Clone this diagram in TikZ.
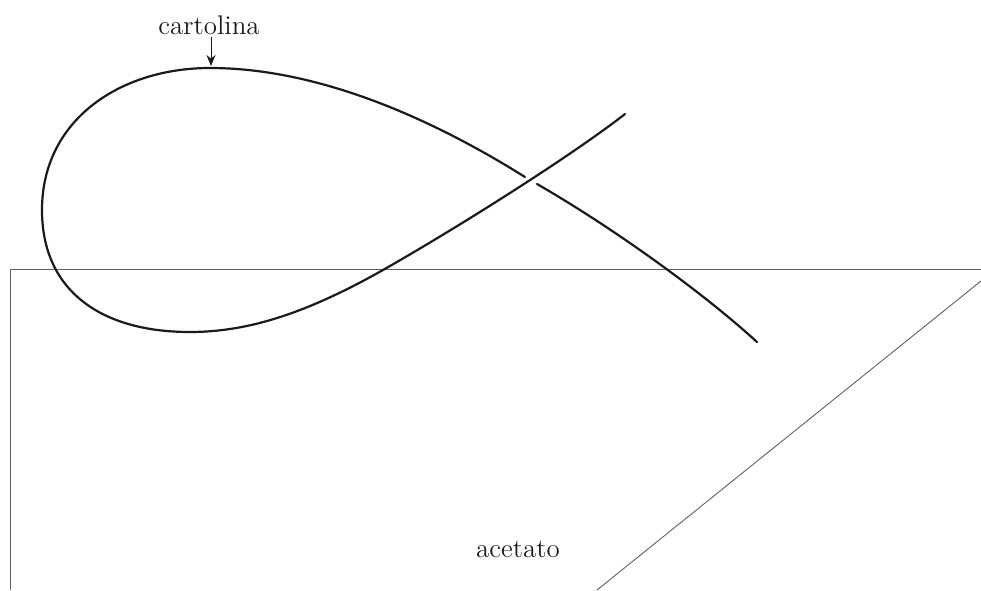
\documentclass[tikz,border=0pt]{standalone}
\usepackage{tikz}
\usetikzlibrary{positioning,arrows.meta}
\definecolor{inkdark}{HTML}{1A1A1A}
\definecolor{sheetgray}{HTML}{606060}

\begin{document}
\begin{tikzpicture}[x=0.5pt, y=-0.5pt,
  cardline/.style={draw=inkdark, line width=1.1pt, line cap=round},
  sheetline/.style={draw=sheetgray, line width=0.45pt},
  lbl/.style={font=\fontsize{13.5}{16}\selectfont, text=inkdark, inner sep=1pt},
  parrow/.style={-{Stealth[length=5.5pt, width=4.5pt]}, inkdark, line width=0.5pt},
]
\useasboundingbox (0,0) rectangle (981,590);

% Acetate sheet (open edges)
\draw[sheetline] (10,590) -- (10,269) -- (981,269);
\draw[sheetline] (981,281) -- (597,590);

% Card loop, upper part (passes over the crossing)
\draw[cardline] (625,114) .. controls (575,153) and (470,220) .. (390,266)
  .. controls (310,312) and (250,332) .. (190,332)
  .. controls (100,332) and (42,290) .. (42,210)
  .. controls (42,120) and (120,68) .. (210,68)
  .. controls (330,68) and (450,130) .. (525,177);
% Card loop, lower part (after the gap)
\draw[cardline] (537,184) .. controls (610,226) and (700,290) .. (757,342);

% Labels
\coordinate (cardtop) at (211,66);
\node[lbl] (cartolina) at (209,25) {cartolina};
\draw[parrow] (cartolina.south -| cardtop) -- (cardtop);
\node[lbl] (acetato) at (518,549) {acetato};
\end{tikzpicture}
\end{document}
